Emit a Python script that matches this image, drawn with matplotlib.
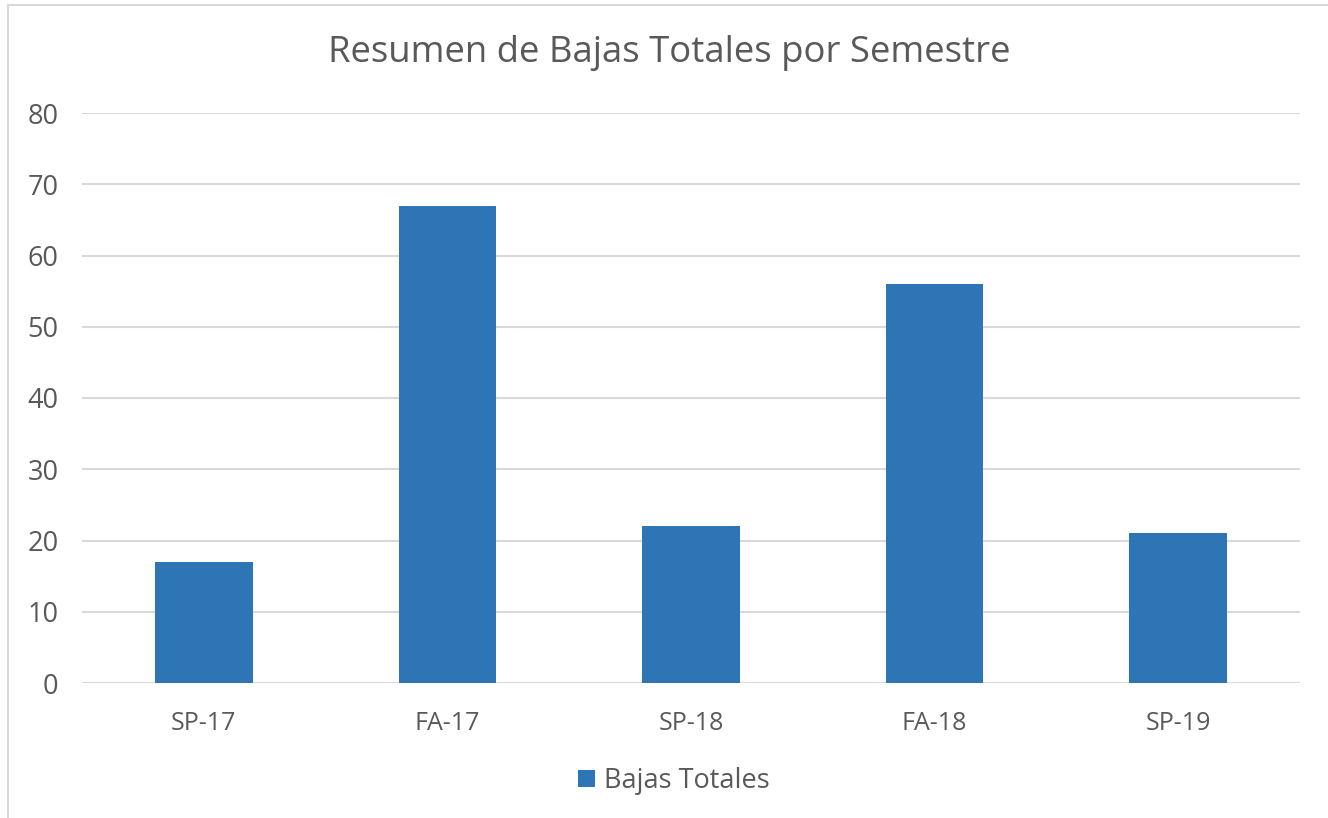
import matplotlib
matplotlib.use("Agg")
import matplotlib.pyplot as plt
from matplotlib.lines import Line2D
from matplotlib.patches import Patch

categories = ["SP-17", "FA-17", "SP-18", "FA-18", "SP-19"]
values = [17, 67, 22, 56, 21]
series_name = "Bajas Totales"
title = "Resumen de Bajas Totales por Semestre"
yticks = [0, 10, 20, 30, 40, 50, 60, 70, 80]

W, H = 1328, 818
fig = plt.figure(figsize=(W / 100, H / 100), dpi=100)
plt.rcParams['font.family'] = ['Open Sans', 'DejaVu Sans']
txt = '#595959'
bar_c = '#2E75B6'
grid_c = '#D9D9D9'

ax = fig.add_axes([82 / W, 1 - 683 / H, (1300 - 82) / W, (683 - 113) / H])
x = list(range(len(categories)))
ax.bar(x, values, width=0.40, color=bar_c, zorder=3)
ax.set_xlim(-0.5, len(categories) - 0.5)
ax.set_ylim(0, 80)
ax.set_yticks(yticks)
ax.set_yticklabels([str(v) for v in yticks])
ax.set_xticks(x)
ax.set_xticklabels(categories)
ax.tick_params(axis='x', length=0, labelsize=18, colors=txt, pad=20)
ax.tick_params(axis='y', length=0, labelsize=19.5, colors=txt, pad=17)
for s in ax.spines.values():
    s.set_visible(False)
ax.grid(axis='y', color=grid_c, linewidth=1.5, zorder=0)
ax.set_axisbelow(True)

fig.text(669 / W, 1 - 53 / H, title, ha='center', va='center', fontsize=26.3, color=txt)

handles = [Patch(facecolor=bar_c, edgecolor='none', label=series_name)]
fig.legend(handles=handles, loc='center', bbox_to_anchor=(674 / W, 1 - 781 / H),
           frameon=False, fontsize=19.5, labelcolor=txt, handlelength=0.62,
           handleheight=0.62, handletextpad=0.35)

# chart border (left and top visible)
fig.add_artist(Line2D([8 / W, 8 / W], [0, 1 - 5 / H], color=grid_c, linewidth=1.5))
fig.add_artist(Line2D([8 / W, 1327 / W], [1 - 5 / H, 1 - 5 / H], color=grid_c, linewidth=1.5))

fig.savefig("out.png", dpi=100, facecolor='white')
